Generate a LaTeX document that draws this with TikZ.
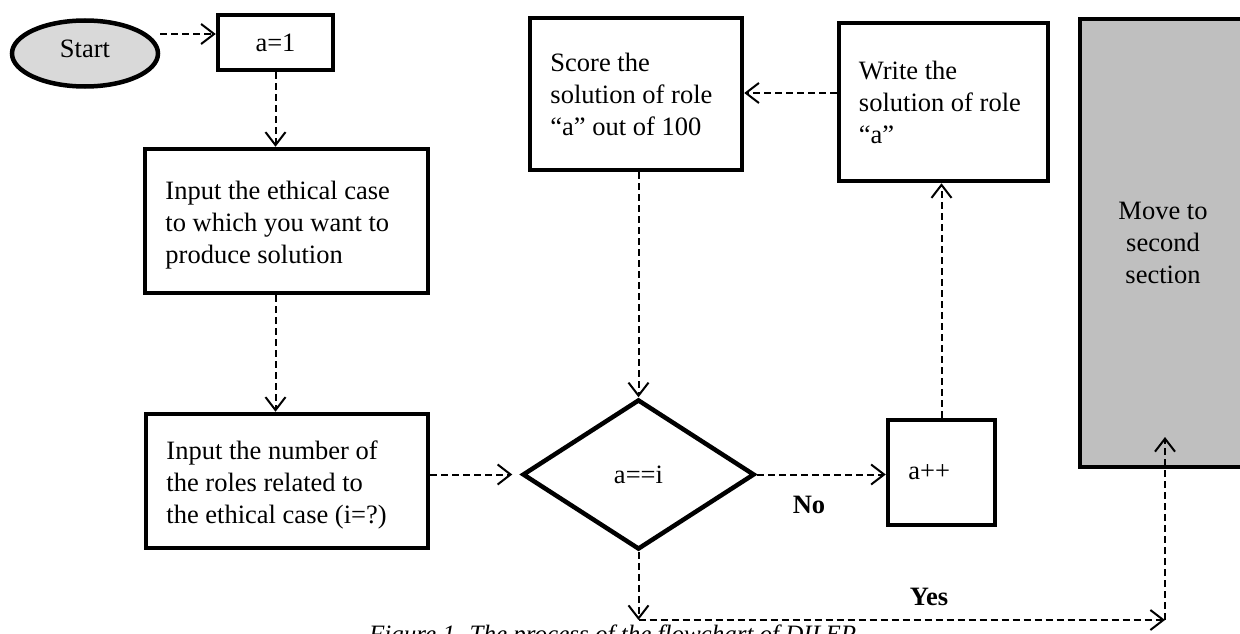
\documentclass[tikz,border=0pt]{standalone}
\usepackage{fontspec}
\setmainfont{Liberation Serif}
\usetikzlibrary{arrows.meta,shapes.geometric}
\begin{document}
\begin{tikzpicture}[x=1pt,y=-1pt,
  txt/.style={font=\fontsize{26.5}{32}\selectfont},
  box/.style={draw, rectangle, line width=4.5pt, inner sep=0pt},
  btxt/.style={txt, align=left, anchor=west, inner sep=0pt},
  lbl/.style={font=\fontsize{26.5}{32}\selectfont\bfseries, inner sep=0pt},
  dsh/.style={line width=2pt, dash pattern=on 7pt off 4pt,
    -{Straight Barb[length=13pt,width=20pt,line width=2pt]}}
]
\useasboundingbox (0,0) rectangle (1240,634);

% shapes
\node[draw, ellipse, line width=4.5pt, fill={rgb,255:red,217;green,217;blue,217},
      minimum width=146pt, minimum height=66pt, inner sep=0pt, txt, text depth=9pt]
      (start) at (85,53.5) {Start};
\node[box, txt, minimum width=115pt, minimum height=55pt] (a1) at (275.5,42.5) {a=1};
\node[box, minimum width=283pt, minimum height=144pt] (case) at (286.5,221) {};
\node[box, minimum width=282pt, minimum height=134pt] (number) at (287,481) {};
\node[draw, diamond, line width=4.5pt, minimum width=232pt, minimum height=150pt,
      inner sep=0pt, txt] (dia) at (638.5,474.5) {a==i};
\node[box, minimum width=107pt, minimum height=105pt] (app) at (941.5,472.5) {};
\node[box, minimum width=212pt, minimum height=152pt] (score) at (636,94) {};
\node[box, minimum width=209pt, minimum height=158pt] (write) at (943.5,102) {};
\node[box, fill={rgb,255:red,191;green,191;blue,191}, txt, align=center,
      minimum width=166pt, minimum height=448pt] (move) at (1163,243)
  {Move to\\second\\section};

% texts inside boxes
\node[btxt] (casetxt) at ([xshift=22.5pt,yshift=-4pt]case.west)
  {Input the ethical case\\to which you want to\\produce solution};
\node[btxt] (numtxt) at ([xshift=22.5pt,yshift=-4pt]number.west)
  {Input the number of\\the roles related to\\the ethical case (i=?)};
\node[btxt] (apptxt) at ([xshift=22.5pt]app.west) {a++};
\node[btxt] (scoretxt) at ([xshift=22.5pt]score.west)
  {Score the\\solution of role\\``a'' out of 100};
\node[btxt] (writetxt) at ([xshift=22pt]write.west)
  {Write the\\solution of role\\``a''};

\node[lbl] (no) at (809,505) {No};
\node[lbl] (yes) at (929,597) {Yes};

\node[anchor=north west, inner sep=0pt, font=\fontsize{25}{29}\selectfont\itshape]
  (cap) at (369,625) {Figure 1. The process of the flowchart of DILEP};

% coordinates
\coordinate (yes1) at (638.5,620);
\coordinate (yes2) at (1165,620);
\coordinate (mvin) at (1165,437);

% connectors
\draw[dsh] ([yshift=19.5pt]start.east) -- ([yshift=19.5pt]start.east -| a1.west);
\draw[dsh] (a1.south) -- (a1.south |- case.north);
\draw[dsh] (a1.south |- case.south) -- (a1.south |- number.north);
\draw[dsh, shorten >=8pt] (dia.west -| number.east) -- (dia.west);
\draw[dsh] (dia.north |- score.south) -- (dia.north);
\draw[dsh] (dia.east) -- (dia.east -| app.west);
\draw[dsh] (app.north) -- (app.north |- write.south);
\draw[dsh] ([yshift=9pt]write.west) -- ([yshift=9pt]write.west -| score.east);
\draw[dsh] (dia.south) -- (yes1);
\draw[dsh] (yes1) -- (yes2);
\draw[dsh] (yes2) -- (mvin);
\end{tikzpicture}
\end{document}
